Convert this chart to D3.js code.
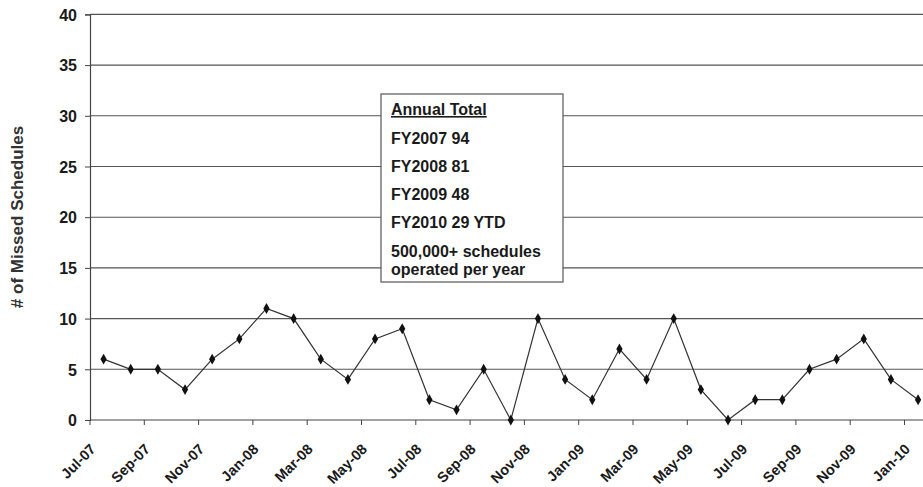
<!DOCTYPE html>
<html><head><meta charset="utf-8">
<script src="https://cdn.jsdelivr.net/npm/d3@7"></script>
<style>
html,body{margin:0;padding:0;background:#fff;}
svg{display:block;font-family:"Liberation Sans",Arial,sans-serif;}
</style></head>
<body><svg id="c" width="923" height="487"></svg>
<script>
const months = ["Jul-07","Aug-07","Sep-07","Oct-07","Nov-07","Dec-07","Jan-08","Feb-08","Mar-08","Apr-08","May-08","Jun-08",
"Jul-08","Aug-08","Sep-08","Oct-08","Nov-08","Dec-08","Jan-09","Feb-09","Mar-09","Apr-09","May-09","Jun-09",
"Jul-09","Aug-09","Sep-09","Oct-09","Nov-09","Dec-09","Jan-10"];
const missed = [6,5,5,3,6,8,11,10,6,4,8,9,2,1,5,0,10,4,2,7,4,10,3,0,2,2,5,6,8,4,2];
const yTicks = [0,5,10,15,20,25,30,35,40];
const xLabels = ["Jul-07","Sep-07","Nov-07","Jan-08","Mar-08","May-08","Jul-08","Sep-08","Nov-08","Jan-09","Mar-09","May-09","Jul-09","Sep-09","Nov-09","Jan-10"];
const yTitle = "# of Missed Schedules";
const noteTitle = "Annual Total";
const noteLines = ["FY2007 94","FY2008 81","FY2009 48","FY2010 29 YTD"];
const noteFoot = ["500,000+ schedules","operated per year"];

(function(){
const svg = d3.select("#c");
const left = 90, right = 923, topY = 14.4, bottom = 420;
const slot = 27.15;
const x = d3.scaleBand().domain(months).range([left, left + slot*months.length]).paddingInner(0).paddingOuter(0);
const y = d3.scaleLinear().domain([0,40]).range([bottom, topY]);
const ink = "#1a1a1a";
const fs = 16;

// gridlines
svg.append("g").selectAll("line").data(yTicks.filter(d=>d>0)).join("line")
  .attr("x1", left).attr("x2", right).attr("y1", d=>y(d)).attr("y2", d=>y(d))
  .attr("stroke", "#555").attr("stroke-width", 1.1);

// y axis
const ya = svg.append("g").attr("transform", `translate(${left},0)`)
  .call(d3.axisLeft(y).tickValues(yTicks).tickSize(5).tickPadding(8));
ya.select(".domain").attr("stroke", "#444").attr("stroke-width",1.2);
ya.selectAll(".tick line").attr("stroke", "#444");
ya.selectAll("text").attr("font-size", fs).attr("font-weight", "bold").attr("fill", ink)
  .attr("font-family","Liberation Sans, Arial, sans-serif").attr("dy","0.36em");

// x axis baseline + ticks every 2 months
svg.append("line").attr("x1", left).attr("x2", right).attr("y1", bottom).attr("y2", bottom)
  .attr("stroke", "#444").attr("stroke-width", 1.2);
svg.append("g").selectAll("line").data(months.filter((d,i)=>i%2===0)).join("line")
  .attr("x1", d=>x(d)).attr("x2", d=>x(d)).attr("y1", bottom).attr("y2", bottom+5)
  .attr("stroke", "#444");
svg.append("g").selectAll("text").data(xLabels).join("text")
  .attr("transform", d=>`translate(${x(d)+x.bandwidth()/2-7},${bottom+30}) rotate(-45)`)
  .attr("text-anchor","end").attr("font-size", 14.5).attr("font-weight","bold").attr("fill", ink)
  .text(d=>d);

// y title
svg.append("text").attr("transform", `translate(23,217) rotate(-90)`)
  .attr("text-anchor","middle").attr("font-size", 17).attr("font-weight","bold").attr("fill","#333")
  .text(yTitle);

// note box
const bx = 381, by = 94, bw = 182, bh = 188;
svg.append("rect").attr("x", bx).attr("y", by).attr("width", bw).attr("height", bh)
  .attr("fill","#fff").attr("stroke","#555").attr("stroke-width",1.2);
const tx = 391;
svg.append("text").attr("x", tx).attr("y", 115).attr("font-size", fs).attr("font-weight","bold")
  .attr("fill", ink).attr("text-decoration","underline").text(noteTitle);
noteLines.forEach((s,i)=>{
  svg.append("text").attr("x", tx).attr("y", 144 + i*27.9).attr("font-size", fs).attr("font-weight","bold")
    .attr("fill", ink).text(s);
});
noteFoot.forEach((s,i)=>{
  svg.append("text").attr("x", tx).attr("y", 257 + i*17.5).attr("font-size", fs).attr("font-weight","bold")
    .attr("fill", ink).text(s);
});

// line
const cx = d=>x(d)+x.bandwidth()/2;
svg.append("path").datum(months.map((m,i)=>[cx(m), y(missed[i])]))
  .attr("d", d3.line()).attr("fill","none").attr("stroke","#333").attr("stroke-width",1.2);
svg.append("g").selectAll("path").data(months).join("path")
  .attr("d", d3.symbol(d3.symbolDiamond, 34))
  .attr("transform", (m,i)=>`translate(${cx(m)},${y(missed[i])})`)
  .attr("fill","#111");
})();
</script></body></html>
